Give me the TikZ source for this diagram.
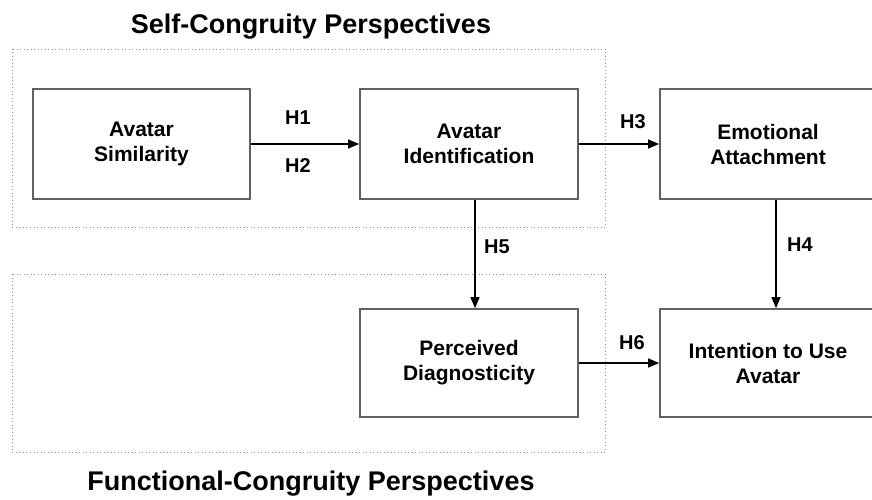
\documentclass[tikz,border=0pt]{standalone}
\usepackage{fontspec}
\setmainfont{Liberation Sans}
\usetikzlibrary{calc,arrows.meta}
\begin{document}
\begin{tikzpicture}[x=1pt,y=-1pt,
  construct/.style={draw=black!62,line width=1.7pt,fill=white,rectangle,
    minimum width=217pt,minimum height=110pt,align=center,inner sep=0pt,
    font=\fontsize{21}{25}\selectfont\bfseries},
  link/.style={draw=black,line width=1.1pt,-{Triangle[length=11pt,width=9pt]}},
  hyp/.style={font=\fontsize{20}{24}\selectfont\bfseries,inner sep=0pt},
  persp/.style={draw=black!45,line width=0.9pt,dash pattern=on 0.9pt off 2.6pt},
  ptitle/.style={font=\fontsize{27}{32}\selectfont\bfseries,inner sep=0pt}]
\clip (0,0) rectangle (872,500);
\fill[white] (0,0) rectangle (872,500);

% perspective groupings
\draw[persp] (12,49) rectangle (605,227);
\draw[persp] (12,274) rectangle (605,452);
\node[ptitle] (selft) at (311,27) {Self-Congruity Perspectives};
\node[ptitle] (funct) at (311,484) {Functional-Congruity Perspectives};

% constructs
\node[construct] (sim) at (141.5,144) {Avatar\\Similarity};
\node[construct,minimum width=218pt] (ide) at (469,144) {Avatar\\Identification};
\node[construct,minimum width=216pt] (emo) at (768,144) {Emotional\\Attachment};
\node[construct,minimum width=218pt,minimum height=108pt] (dia) at (469,363) {Perceived\\Diagnosticity};
\node[construct,minimum width=216pt,minimum height=108pt] (int) at (768,363) {Intention to Use\\Avatar};

% hypothesised paths
\draw[link] (sim.east) -- (ide.west);
\draw[link] (ide.east) -- (emo.west);
\draw[link] ($(ide.south)+(6,0)$) -- ($(dia.north)+(6,0)$);
\draw[link] ($(emo.south)+(8,0)$) -- ($(int.north)+(8,0)$);
\draw[link] (dia.east) -- (int.west);

% path labels
\node[hyp] (h1) at (298,118) {H1};
\node[hyp] (h2) at (298,166) {H2};
\node[hyp] (h3) at (633,122) {H3};
\node[hyp] (h5) at (497,247) {H5};
\node[hyp] (h4) at (800,245) {H4};
\node[hyp] (h6) at (632,343) {H6};
\end{tikzpicture}
\end{document}
